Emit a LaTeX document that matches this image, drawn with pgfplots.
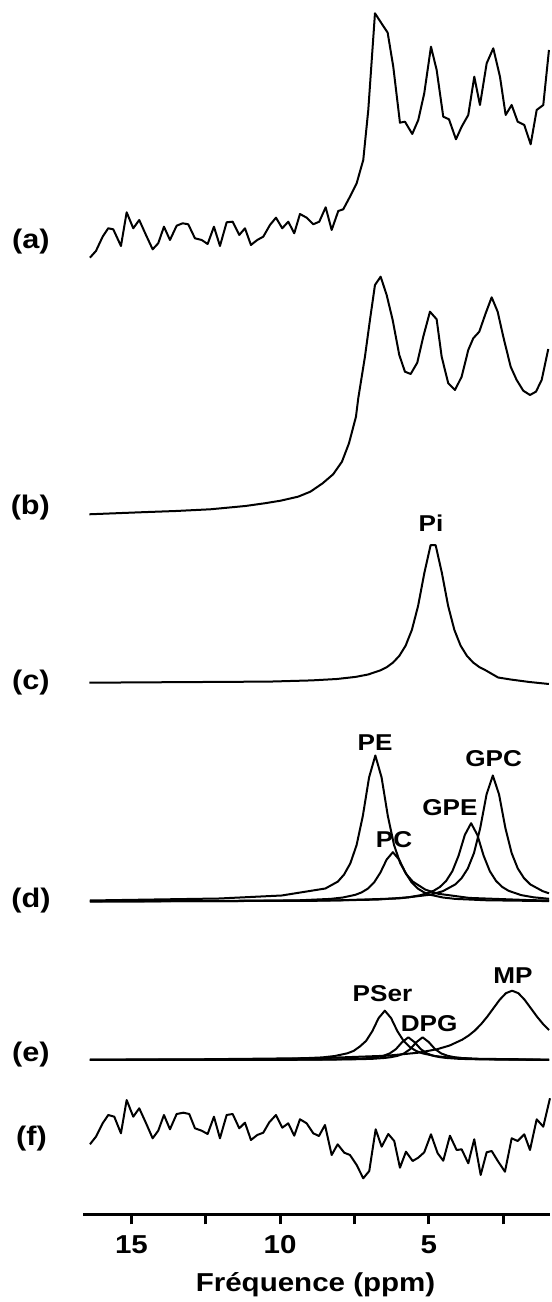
\documentclass[border=0pt]{standalone}
\usepackage{fontspec}
\setmainfont{Liberation Sans}[FakeStretch=1.14]
\usepackage{pgfplots}
\pgfplotsset{compat=1.18}
\begin{document}
\begin{tikzpicture}[
  lbl/.style={font=\fontsize{23}{27}\selectfont\bfseries, inner sep=0pt},
  tag/.style={font=\fontsize{27}{32}\selectfont\bfseries, inner sep=0pt},
]
\begin{axis}[
  scale only axis,
  width=466.9bp, height=1214.3bp,
  xmin=0.928, xmax=16.627, ymin=87.7, ymax=1302,
  x dir=reverse,
  axis x line*=bottom, axis y line=none,
  x axis line style={line width=3.2bp},
  xtick={15,10,5}, xticklabels={15,10,5},
  minor xtick={12.5,7.5,2.5},
  tick align=outside,
  major tick length=10bp, minor tick length=10bp,
  every tick/.style={black, line width=2.8bp},
  xticklabel style={font=\fontsize{26}{30}\selectfont\bfseries, yshift=-7.5bp},
  clip=false,
  cycle list={{black, solid, mark=none}},
  every axis plot/.append style={line width=2bp, line join=round},
]
% (a) measured spectrum
\addplot table {
16.395 1044.3
16.194 1051
15.968 1065.3
15.780 1073.7
15.612 1072.7
15.353 1056
15.161 1089.7
14.939 1073.7
14.738 1082
14.512 1067
14.287 1052.7
14.099 1058.7
13.907 1075.3
13.705 1062
13.480 1076.3
13.278 1078.7
13.090 1077.7
12.865 1063.7
12.639 1062
12.438 1058
12.226 1075.3
12.024 1056
11.799 1079.7
11.597 1080.3
11.375 1067
11.183 1073.7
10.982 1057
10.770 1062
10.568 1065.3
10.343 1077
10.141 1084.3
9.929 1073.7
9.727 1080.3
9.526 1068.7
9.334 1088
9.109 1084.3
8.887 1077.7
8.685 1080.3
8.470 1094.7
8.268 1072
8.046 1091
7.878 1092.7
7.653 1105.3
7.428 1118.7
7.206 1142
7.037 1192
6.812 1288.7
6.600 1279
6.385 1269.3
6.197 1235.3
5.972 1179.3
5.804 1180.3
5.558 1168
5.356 1182
5.155 1208.7
4.929 1255.3
4.738 1232
4.516 1185.3
4.324 1182.7
4.089 1162.7
3.897 1175.3
3.675 1187
3.473 1225.3
3.282 1197
3.056 1238.7
2.834 1253.7
2.609 1225.3
2.418 1187
2.216 1197
2.014 1180.3
1.792 1177
1.577 1157.7
1.375 1192
1.153 1197
0.962 1252
};
% (b) fitted sum
\addplot table {
16.415 787.7
14.704 789.7
13.500 791.0
12.343 792.7
11.167 796
10.500 798.8
9.986 801.3
9.398 805.3
8.984 810.3
8.571 818.7
8.218 827.7
7.922 840.3
7.686 858.7
7.451 885.3
7.374 903.7
7.149 945.3
6.981 982
6.812 1017
6.621 1025.3
6.419 1007
6.217 982
5.995 947
5.804 930.3
5.612 928
5.390 939.3
5.188 965.3
4.963 990.3
4.738 982.7
4.570 945.3
4.348 918.7
4.122 912
3.897 925.3
3.675 952
3.507 963.7
3.305 970.3
3.090 988.7
2.888 1004.7
2.687 990.3
2.498 965.3
2.250 935.3
2.048 922
1.826 911.3
1.600 907
1.399 910.3
1.207 922
0.985 953
};
% (c) Pi
\addplot table {
16.415 619.3
10.357 620.4
8.932 621.6
8.092 623.0
7.462 625.1
7.042 627.5
6.622 631.7
6.412 634.9
6.202 639.5
5.992 646.2
5.782 656.3
5.572 672.0
5.362 696.1
5.152 729.0
4.942 756.8
4.772 756.8
4.562 729.0
4.352 696.1
4.142 672.0
3.932 656.3
3.722 646.2
3.512 639.5
3.302 634.9
3.092 631.7
2.672 624.5
2.252 622.5
1.622 620.0
0.964 618.0
};
% (d) PE
\addplot table {
16.40 401.5
12.05 403.5
9.95 406.5
8.90 411.5
8.48 413.5
8.06 420.4
7.85 427.5
7.64 438.7
7.43 456.9
7.22 486.1
7.01 524.6
6.80 546.5
6.59 524.6
6.38 486.1
6.17 456.9
5.96 438.7
5.75 427.5
5.54 420.4
5.12 412.4
4.70 408.3
3.65 404.1
1.55 401.8
0.96 401.6
};
% (d) PC
\addplot table {
16.40 400.6
11.46 400.9
9.36 401.7
8.31 403.1
7.89 404.5
7.47 407.2
7.26 409.6
7.05 413.4
6.84 419.6
6.63 429.4
6.42 442.4
6.21 449.8
6.00 442.4
5.79 429.4
5.58 419.6
5.37 413.4
5.16 409.6
4.95 407.2
4.53 404.5
4.11 403.1
3.06 401.7
0.96 400.9
};
% (d) GPE
\addplot table {
16.40 400.6
8.83 401.2
6.73 402.4
5.68 404.7
5.26 406.9
4.84 411.2
4.63 415.0
4.42 421.0
4.21 430.8
4.00 446.4
3.79 467.1
3.58 478.8
3.37 467.1
3.16 446.4
2.95 430.8
2.74 421.0
2.53 415.0
2.32 411.2
1.90 406.9
1.48 404.7
0.96 403.2
};
% (d) GPC
\addplot table {
16.40 400.7
8.10 401.6
6.00 403.6
4.95 407.3
4.53 410.8
4.11 417.6
3.90 423.8
3.69 433.5
3.48 449.2
3.27 474.4
3.06 507.6
2.85 526.5
2.64 507.6
2.43 474.4
2.22 449.2
2.01 433.5
1.80 423.8
1.59 417.6
1.17 410.8
0.96 408.7
};
% (e) PSer
\addplot table {
16.40 242.1
11.73 242.4
9.63 243.2
8.58 244.6
8.16 246.0
7.74 248.7
7.53 251.1
7.32 255.5
7.11 261.1
6.90 270.9
6.69 283.9
6.48 291.3
6.27 283.9
6.06 270.9
5.85 261.1
5.64 254.9
5.43 251.1
5.22 248.7
4.80 246.0
4.38 244.6
3.33 243.2
0.96 242.4
};
% (e) DPG 1
\addplot table {
16.40 242.0
10.94 242.1
8.84 242.4
7.79 242.8
7.37 243.2
6.95 244.1
6.74 244.9
6.53 246.2
6.32 248.5
6.11 252.8
5.90 259.8
5.69 264.7
5.48 259.8
5.27 252.8
5.06 248.5
4.85 246.2
4.64 244.9
4.43 244.1
4.01 243.2
3.59 242.8
2.54 242.4
0.96 242.1
};
% (e) DPG 2
\addplot table {
16.40 242.0
10.46 242.1
8.36 242.4
7.31 242.8
6.89 243.2
6.47 244.1
6.26 244.9
6.05 246.2
5.84 248.5
5.63 252.8
5.42 259.8
5.21 264.7
5.00 259.8
4.79 252.8
4.58 248.5
4.37 246.2
4.16 244.9
3.95 244.1
3.53 243.2
3.11 242.8
2.06 242.4
0.96 242.1
};
% (e) MP
\addplot table {
16.40 242.4
12.70 242.7
8.50 244.0
6.40 246.3
5.35 249.3
4.72 252.8
4.30 256.5
3.88 262.3
3.67 266.3
3.46 271.3
3.25 277.6
3.04 285.2
2.83 293.7
2.62 302.2
2.41 308.8
2.20 311.3
1.99 308.8
1.78 302.2
1.57 293.7
1.36 285.2
1.15 277.6
0.96 271.9
};
% (f) residual
\addplot table {
16.395 157.7
16.194 165.3
15.968 178.7
15.780 187
15.578 185.3
15.353 168.7
15.161 202
14.939 185.3
14.738 193.7
14.512 179
14.287 163.7
14.099 171.3
13.907 187
13.705 172.7
13.480 188
13.258 189.3
13.056 188
12.865 173.7
12.639 171.3
12.438 168
12.226 185.3
12.024 163.7
11.799 187
11.597 188
11.375 173.7
11.183 179.3
10.982 162
10.770 167
10.568 169.3
10.366 179.7
10.141 187
9.929 174.3
9.727 178.7
9.526 166.3
9.334 182.7
9.109 178.7
8.887 168.7
8.695 166
8.493 177
8.268 147
8.067 157.7
7.845 149.3
7.653 147
7.428 137
7.206 123.7
7.004 131
6.789 172.7
6.587 155.3
6.365 168
6.164 161
5.972 134.3
5.770 150.3
5.545 141
5.357 144.3
5.155 149.7
4.929 167.7
4.704 148.7
4.516 141.3
4.291 166.3
4.066 152
3.897 152.7
3.675 138.7
3.474 162.7
3.258 127
3.057 149.7
2.888 151
2.667 140.3
2.441 130.3
2.216 163.7
2.014 161
1.792 167.7
1.600 152
1.375 182.7
1.153 175.3
0.928 203.7
};
% invisible frame for the page margins
\path (axis cs:19.42,0) rectangle (axis cs:0.928,1302);
% spectrum tags
\node[tag] at (axis cs:18.38,1060.3) {(a)};
\node[tag] at (axis cs:18.40,794.5) {(b)};
\node[tag] at (axis cs:18.38,619) {(c)};
\node[tag] at (axis cs:18.38,401) {(d)};
\node[tag] at (axis cs:18.38,247) {(e)};
\node[tag] at (axis cs:18.36,163) {(f)};
% peak names
\node[lbl] at (axis cs:4.93,779) {Pi};
\node[lbl] at (axis cs:6.81,559) {PE};
\node[lbl] at (axis cs:2.82,543) {GPC};
\node[lbl] at (axis cs:4.29,494) {GPE};
\node[lbl] at (axis cs:6.17,462) {PC};
\node[lbl] at (axis cs:6.56,308.7) {PSer};
\node[lbl] at (axis cs:4.99,278.7) {DPG};
\node[lbl] at (axis cs:2.17,326) {MP};
\node[font=\fontsize{26}{31}\selectfont\bfseries, inner sep=0pt] at (axis cs:8.81,17) {Fréquence (ppm)};
\end{axis}
\end{tikzpicture}
\end{document}
